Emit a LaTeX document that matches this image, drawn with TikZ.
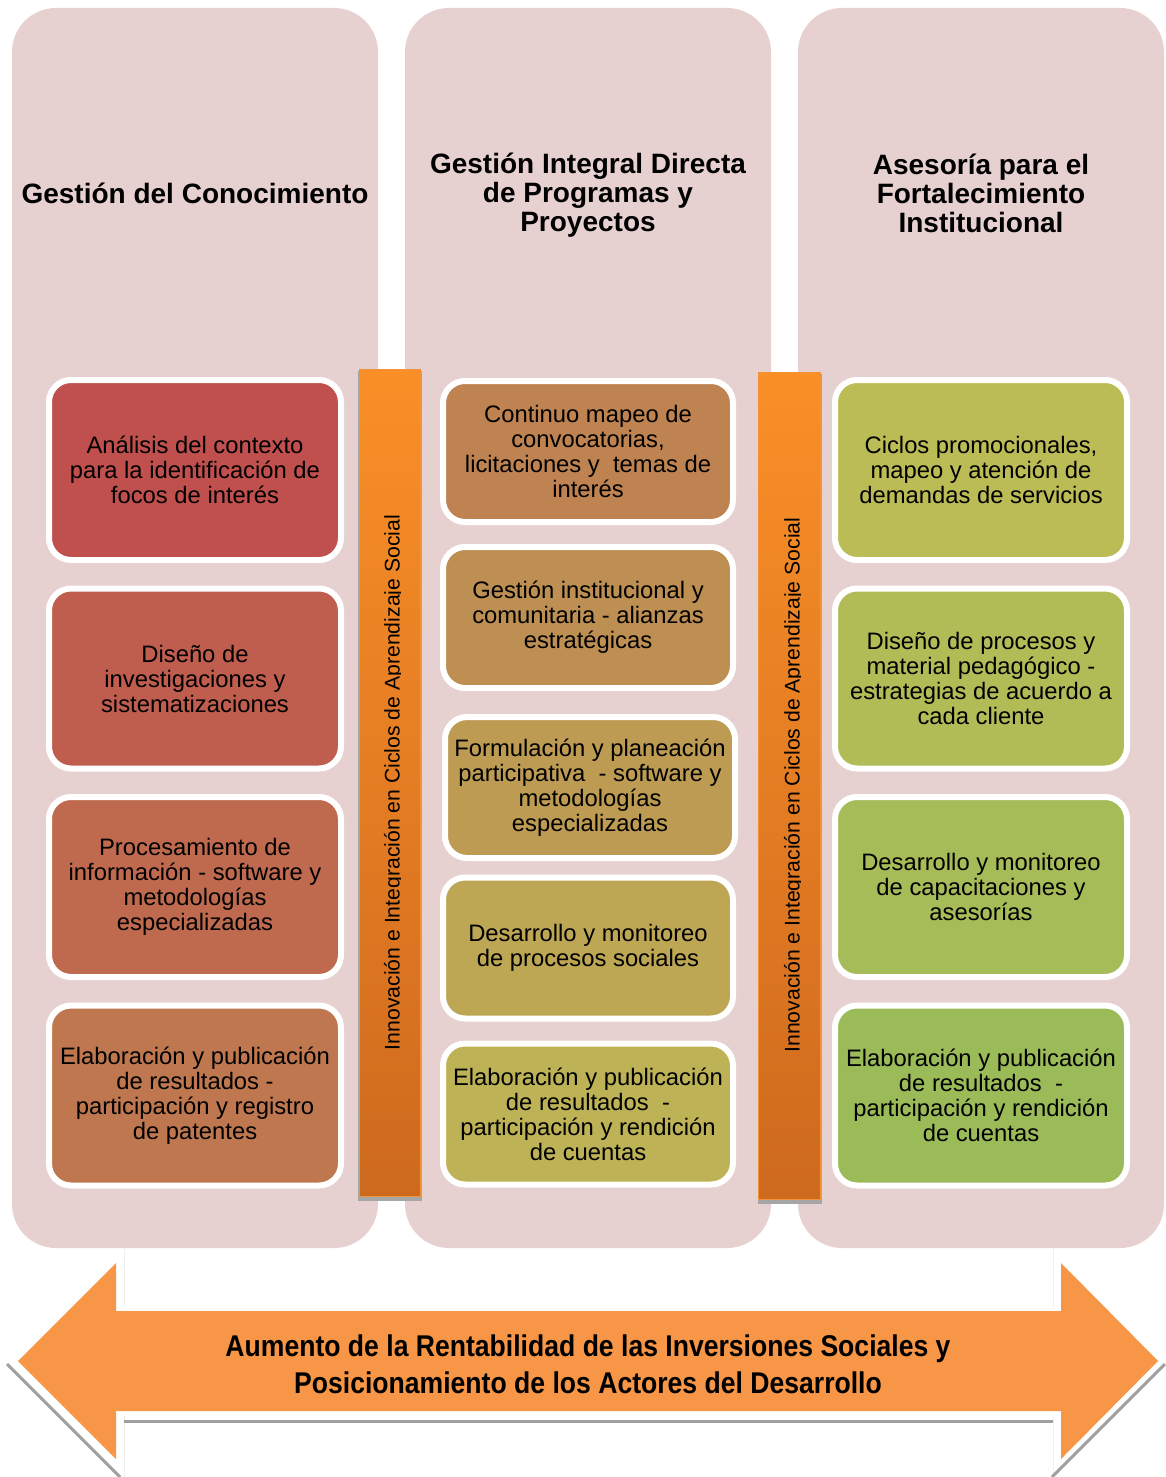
\documentclass[tikz,border=0pt]{standalone}
\usepackage{fontspec}
\setmainfont{Liberation Sans}
\usepackage{graphicx}

% panel and bar colours
\definecolor{colbg}{HTML}{E7D0D0}
\definecolor{barTop}{HTML}{FA8F27}
\definecolor{barBot}{HTML}{CE6A1E}
\definecolor{barEdge}{HTML}{F2923A}
\definecolor{barShade}{HTML}{A6A6A6}
\definecolor{arrowFill}{HTML}{F79646}
\definecolor{arrowShade}{HTML}{A0A0A0}
% card colours, running from red to green
\definecolor{c0}{HTML}{C0504D}
\definecolor{c1}{HTML}{BF5D4E}
\definecolor{c2}{HTML}{BF6A4F}
\definecolor{c3}{HTML}{BF7750}
\definecolor{c4}{HTML}{BE8351}
\definecolor{c5}{HTML}{BE8F52}
\definecolor{c6}{HTML}{BD9B53}
\definecolor{c7}{HTML}{BDA654}
\definecolor{c8}{HTML}{BDB255}
\definecolor{c9}{HTML}{BCBC56}
\definecolor{c10}{HTML}{B1BC57}
\definecolor{c11}{HTML}{A6BC58}
\definecolor{c12}{HTML}{9BBB59}

\begin{document}
\begin{tikzpicture}[x=1pt,y=-1pt,
  panel/.style={fill=colbg, rounded corners=44pt},
  card/.style={draw=white, line width=6pt, rounded corners=22pt, inner sep=0pt,
    align=center, text=black, font=\fontsize{23.8}{25}\selectfont},
  tall/.style={card, minimum width=292pt, minimum height=180pt},
  short/.style={card, minimum width=290pt, minimum height=141pt},
  head/.style={align=center, font=\bfseries\fontsize{28}{29}\selectfont},
  bar/.style={draw=barEdge, line width=1pt, top color=barTop, bottom color=barBot,
    inner sep=0pt, minimum width=61pt, minimum height=827pt},
  bartext/.style={rotate=90, anchor=base, inner sep=0pt, font=\fontsize{21.2}{22}\selectfont},
]
\useasboundingbox (0,0) rectangle (1166,1477);

% the three panels
\fill[panel] (12,8) rectangle (378,1248);
\fill[panel] (405,8) rectangle (771,1248);
\fill[panel] (798,8) rectangle (1164,1248);

% panel headings
\node[head] (h1) at (195,193) {Gestión del Conocimiento};
\node[head] (h2) at (588,195.5) {Gestión Integral Directa\\de Programas y\\Proyectos};
\node[head] (h3) at (981,193) {Asesoría para el\\Fortalecimiento\\Institucional};

% first panel
\node[tall, fill=c0] (a1) at (195,470) {Análisis del contexto\\para la identificación de\\focos de interés};
\node[tall, fill=c1] (a2) at (195,678.5) {Diseño de\\investigaciones y\\sistematizaciones};
\node[tall, fill=c2] (a3) at (195,887) {Procesamiento de\\información - software y\\metodologías\\especializadas};
\node[tall, fill=c3] (a4) at (195,1095.5) {Elaboración y publicación\\de resultados -\\participación y registro\\de patentes};

% second panel
\node[short, fill=c4] (b1) at (588,451.5) {Continuo mapeo de\\convocatorias,\\licitaciones y\ \ temas de\\interés};
\node[short, fill=c5] (b2) at (588,617.5) {Gestión institucional y\\comunitaria - alianzas\\estratégicas};
\node[short, fill=c6] (b3) at (590,787.5) {Formulación y planeación\\participativa\ \ - software y\\metodologías\\especializadas};
\node[short, fill=c7] (b4) at (588,948) {Desarrollo y monitoreo\\de procesos sociales};
\node[short, fill=c8] (b5) at (588,1114) {Elaboración y publicación\\de resultados\ \ -\\participación y rendición\\de cuentas};

% third panel
\node[tall, fill=c9] (d1) at (981,470) {Ciclos promocionales,\\mapeo y atención de\\demandas de servicios};
\node[tall, fill=c10] (d2) at (981,678.5) {Diseño de procesos y\\material pedagógico -\\estrategias de acuerdo a\\cada cliente};
\node[tall, fill=c11] (d3) at (981,887) {Desarrollo y monitoreo\\de capacitaciones y\\asesorías};
\node[tall, fill=c12] (d4) at (981,1095.5) {Elaboración y publicación\\de resultados\ \ -\\participación y rendición\\de cuentas};

% vertical bars between the panels
\fill[barShade] (357.5,371) rectangle (421.5,1201);
\node[bar] (bar1) at (389.5,782.5) {};
\begin{scope}
  \clip (359,369) rectangle (400.5,1196);
  \node[bartext] (t1) at (399.5,782.5) {Innovación e Integración en Ciclos de Aprendizaje Social};
\end{scope}

\fill[barShade] (757.5,374) rectangle (821.5,1204);
\node[bar, minimum width=62pt] (bar2) at (789,785.5) {};
\begin{scope}
  \clip (758,372) rectangle (800.5,1199);
  \node[bartext] (t2) at (799.5,785) {Innovación e Integración en Ciclos de Aprendizaje Social};
\end{scope}

% faint frame behind the double arrow
\draw[gray!12, line width=0.8pt] (124,1248) -- (124,1477) (1053,1248) -- (1053,1477);

% shadow lines of the double arrow
\draw[arrowShade, line width=3pt] (7,1364) -- (120,1477);
\draw[arrowShade, line width=3pt] (1165,1364) -- (1052,1477);
\draw[arrowShade, line width=3pt] (124,1421.5) -- (1053,1421.5);

% double arrow: white rim first, orange body on top
\path[draw=white, line width=8pt, line join=round]
  (18,1361) -- (116,1263) -- (116,1311) -- (1061,1311) -- (1061,1263)
  -- (1158,1361) -- (1061,1459) -- (1061,1411) -- (116,1411) -- (116,1459) -- cycle;
\fill[arrowFill]
  (18,1361) -- (116,1263) -- (116,1311) -- (1061,1311) -- (1061,1263)
  -- (1158,1361) -- (1061,1459) -- (1061,1411) -- (116,1411) -- (116,1459) -- cycle;

\node[inner sep=0pt, font=\bfseries\fontsize{30}{37}\selectfont] (goal) at (588,1368)
  {\resizebox{725pt}{\height}{\begin{tabular}{@{}c@{}}Aumento de la Rentabilidad de las Inversiones Sociales y\\Posicionamiento de los Actores del Desarrollo\end{tabular}}};
\end{tikzpicture}
\end{document}
